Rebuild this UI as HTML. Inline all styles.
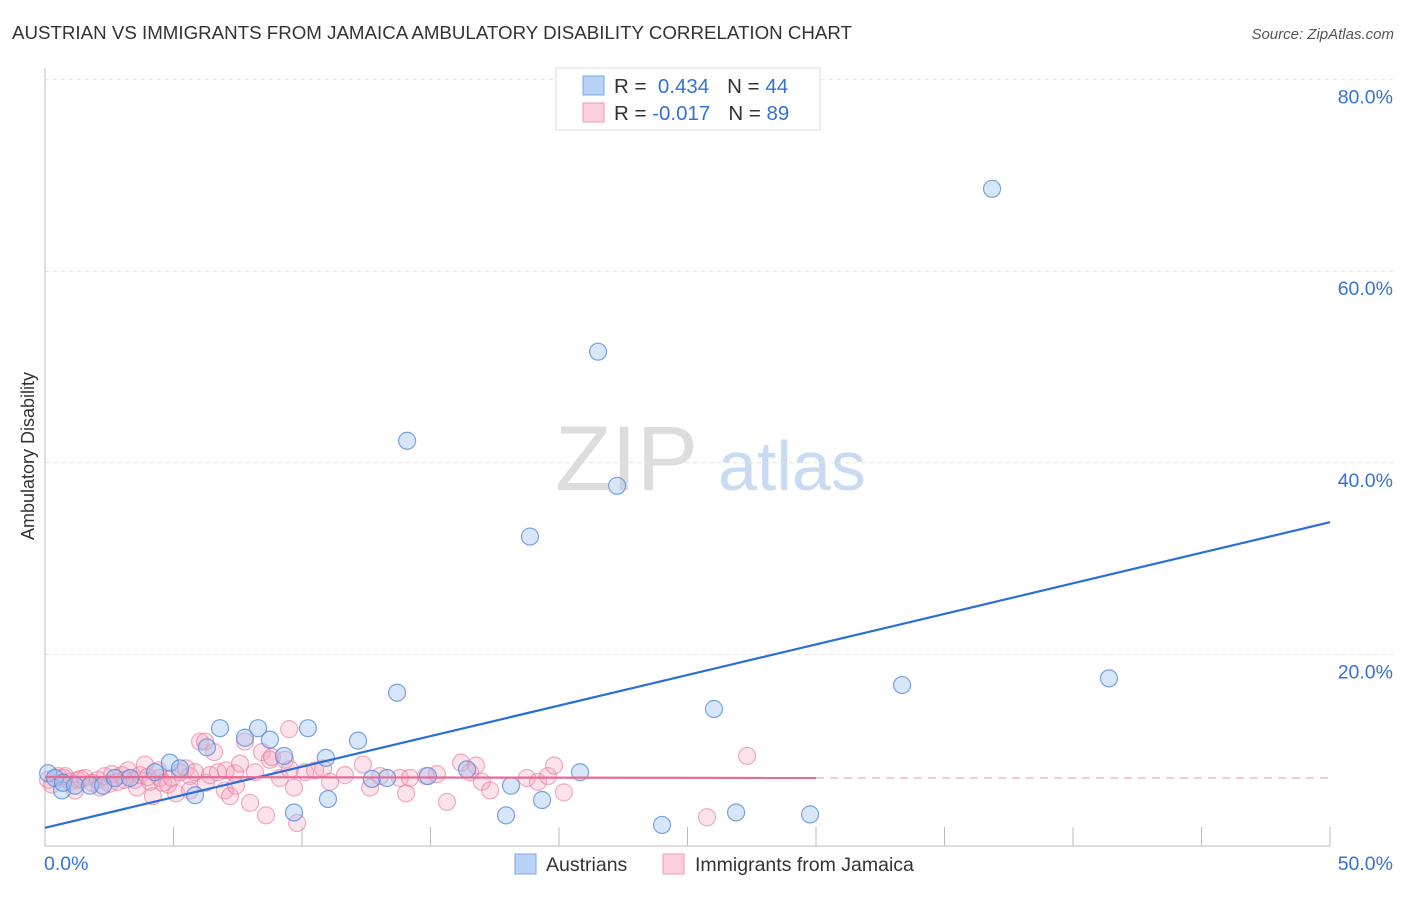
<!DOCTYPE html>
<html><head><meta charset="utf-8"><style>
body{margin:0;background:#fff;font-family:"Liberation Sans",sans-serif}
svg text{font-family:"Liberation Sans",sans-serif}
</style></head><body>
<svg width="1406" height="892" viewBox="0 0 1406 892">
<text x="12" y="39" font-size="18.6" fill="#333" textLength="840" lengthAdjust="spacingAndGlyphs">AUSTRIAN VS IMMIGRANTS FROM JAMAICA AMBULATORY DISABILITY CORRELATION CHART</text>
<text x="1394" y="39" font-size="15" fill="#555" font-style="italic" text-anchor="end">Source: ZipAtlas.com</text>
<text x="555" y="490" font-size="92" fill="#ddd" font-family="Liberation Serif,serif">ZIP</text>
<text x="718" y="490" font-size="70" fill="#c8dbf3">atlas</text>
<g id="grid"></g>
<g id="axes"></g>
<g id="marks"></g>
<text transform="translate(34,456) rotate(-90)" font-size="18" fill="#333" text-anchor="middle">Ambulatory Disability</text>
<g>
<rect x="556" y="68" width="264" height="62" fill="#fff" stroke="#ddd"/>
<rect x="583" y="76" width="21" height="19" fill="#b8d3f5" stroke="#7aa7e6"/>
<rect x="583" y="103" width="21" height="19" fill="#fbd0dc" stroke="#ef9ab5"/>
<text x="614" y="93" font-size="20.5" fill="#333">R = <tspan fill="#3572d6">&#160;0.434</tspan><tspan dx="18">N = </tspan><tspan fill="#3572d6">44</tspan></text>
<text x="614" y="120" font-size="20.5" fill="#333">R = <tspan fill="#3572d6">-0.017</tspan><tspan dx="18">N = </tspan><tspan fill="#3572d6">89</tspan></text>
</g>
<g>
<rect x="515" y="854" width="21" height="20" fill="#b8d3f5" stroke="#7aa7e6"/>
<text x="546" y="871" font-size="19.5" fill="#333">Austrians</text>
<rect x="663" y="854" width="21" height="20" fill="#fbd0dc" stroke="#ef9ab5"/>
<text x="695" y="871" font-size="19.5" fill="#333">Immigrants from Jamaica</text>
</g>
</svg>
<script>
const yTicks=[20,40,60,80];
const yTickLabels=["20.0%","40.0%","60.0%","80.0%"];
const xTicks=[0,5,10,15,20,25,30,35,40,45,50];
const xEndLabels=["0.0%","50.0%"];
const blueX=[0.12,0.39,0.66,0.70,1.17,1.75,2.26,2.72,3.31,4.28,4.86,5.25,5.84,6.30,6.81,7.78,8.29,8.75,9.30,9.69,10.23,10.93,11.01,12.18,12.72,13.31,13.70,14.09,14.90,16.42,17.94,18.13,18.87,19.34,20.82,21.52,22.26,24.01,26.03,26.89,29.77,33.35,36.85,41.40];
const blueY=[7.6,7.1,5.8,6.6,6.3,6.3,6.3,7.1,7.1,7.7,8.7,8.1,5.3,10.3,12.3,11.3,12.3,11.1,9.4,3.5,12.3,9.2,4.9,11.0,7.0,7.1,16.0,42.3,7.3,8.0,3.2,6.3,32.3,4.8,7.7,51.6,37.6,2.2,14.3,3.5,3.3,16.8,68.6,17.5];
const pinkX=[0.12,0.27,0.51,0.74,0.78,0.97,1.17,1.28,1.56,1.83,2.06,2.14,2.33,2.53,2.61,2.84,3.00,3.23,3.50,3.58,3.70,3.89,4.09,4.20,4.40,4.47,4.59,4.79,4.94,5.10,5.25,5.49,5.64,5.64,5.84,6.03,6.23,6.26,6.42,6.58,6.73,7.00,7.04,7.20,7.39,7.43,7.59,7.78,7.98,8.17,8.44,8.60,8.75,8.83,9.14,9.34,9.53,9.69,9.81,10.12,10.51,10.82,11.09,11.67,12.37,12.65,13.04,13.81,14.05,14.20,14.82,15.25,15.64,16.19,16.54,16.77,17.00,17.32,18.75,19.18,19.57,19.81,20.19,25.76,27.32,9.50,1.40,3.10,4.00];
const pinkY=[6.9,6.4,7.3,7.1,7.3,6.7,5.8,6.9,7.1,6.6,6.9,6.1,7.3,6.5,7.5,6.7,7.4,7.9,6.9,6.1,7.4,8.5,6.7,5.2,7.9,7.1,6.6,6.4,7.1,5.5,7.7,8.1,7.3,5.8,7.7,10.9,10.9,6.6,7.4,9.8,7.7,5.8,7.9,5.2,7.6,6.3,8.6,10.9,4.5,7.7,9.8,3.2,9.0,9.3,7.1,9.0,8.0,6.1,2.4,7.7,7.9,8.1,6.7,7.4,8.5,6.1,7.3,7.1,5.5,7.1,7.3,7.5,4.6,8.7,7.7,8.4,6.7,5.8,7.1,6.7,7.3,8.4,5.6,3.0,9.4,12.2,7.0,6.9,7.2];
const blueTrend=[[0,1.9],[50,33.8]];
const pinkTrend=[[0,7.2],[30,7.1],[50,7.1]];
const X=v=>45+v*25.7, Y=v=>846-v*9.58;
const NS="http://www.w3.org/2000/svg";
function mk(p,t,a){const e=document.createElementNS(NS,t);for(const k in a)e.setAttribute(k,a[k]);p.appendChild(e);return e;}
const grid=document.getElementById('grid'),axes=document.getElementById('axes'),marks=document.getElementById('marks');
yTicks.forEach((t,i)=>{
 const l=mk(grid,'line',{x1:45,x2:1395,y1:Y(t),y2:Y(t),stroke:'#e2e2e2','stroke-dasharray':'4,4'});
 
 
 const tx=mk(grid,'text',{x:1393,y:Y(t)+24,'font-size':19.5,fill:'#3572d6','text-anchor':'end'});
 tx.textContent=yTickLabels[i];
 
 
});
const ya=mk(axes,'line',{x1:45,x2:45,y1:68,y2:846,stroke:'#bbb'});


const xa=mk(axes,'line',{x1:45,x2:1330,y1:846,y2:846,stroke:'#bbb'});


xTicks.forEach(t=>{
 const l=mk(axes,'line',{x1:X(t),x2:X(t),y1:827,y2:846,stroke:'#bbb'});
 
 
});
[[0,'start',44],[50,'end',1393]].forEach((d,i)=>{
 const tx=mk(axes,'text',{x:d[2],y:870,'font-size':19.5,fill:'#3572d6','text-anchor':d[1]});
 tx.textContent=xEndLabels[i];
 
 
});
pinkX.forEach((x,i)=>{
 const c=mk(marks,'circle',{cx:X(x),cy:Y(pinkY[i]),r:8.5,fill:'rgba(244,166,192,0.32)',stroke:'rgba(232,120,158,0.6)','stroke-width':1.2});
 
 
});
blueX.forEach((x,i)=>{
 const c=mk(marks,'circle',{cx:X(x),cy:Y(blueY[i]),r:8.5,fill:'rgba(160,196,240,0.42)',stroke:'rgba(80,135,215,0.75)','stroke-width':1.2});
 
 
});
const bl=mk(marks,'line',{x1:X(blueTrend[0][0]),y1:Y(blueTrend[0][1]),x2:X(blueTrend[1][0]),y2:Y(blueTrend[1][1]),stroke:'#2a6fd6','stroke-width':2.2});


const pl=mk(marks,'line',{x1:X(pinkTrend[0][0]),y1:Y(pinkTrend[0][1]),x2:X(pinkTrend[1][0]),y2:Y(pinkTrend[1][1]),stroke:'#e56b93','stroke-width':2.2});


const pd=mk(marks,'line',{x1:X(pinkTrend[1][0]),y1:Y(pinkTrend[1][1]),x2:X(pinkTrend[2][0]),y2:Y(pinkTrend[2][1]),stroke:'#f0b5c8','stroke-width':1.5,'stroke-dasharray':'8,6'});


</script>
</body></html>
